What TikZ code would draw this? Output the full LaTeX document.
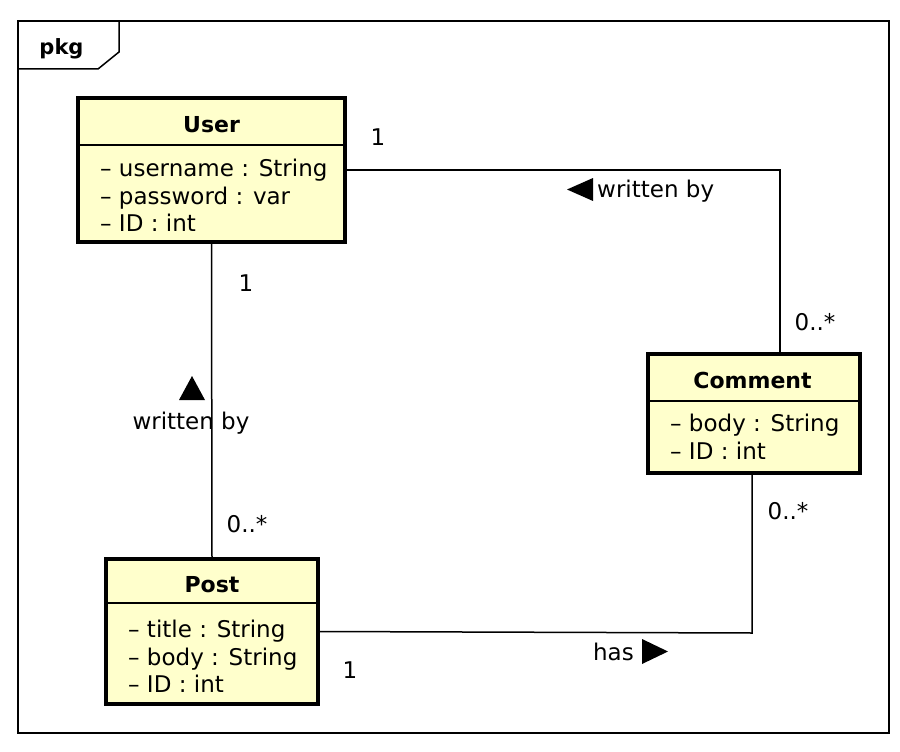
\documentclass[tikz,border=0pt]{standalone}
\usepackage{fontspec}
\setmainfont{DejaVu Sans}
\begin{document}
\begin{tikzpicture}[x=1pt,y=-1pt,
  classbox/.style={draw=black,line width=3.2pt,fill=umlyellow,rectangle,inner sep=0pt},
  ctitle/.style={font=\fontsize{22}{26}\selectfont\bfseries,anchor=base,inner sep=0pt},
  attr/.style={font=\fontsize{23}{27}\selectfont,anchor=base west,inner sep=0pt},
  lbl/.style={font=\fontsize{23}{27}\selectfont,anchor=base,inner sep=0pt},
  conn/.style={draw=black,line width=1.5pt},
  sep/.style={draw=black,line width=1.5pt}]
\definecolor{umlyellow}{RGB}{255,255,204}
\useasboundingbox (0,0) rectangle (900,752);
% frame
\draw[line width=1.5pt] (18,21) rectangle (889,733);
\draw[line width=1.5pt] (18,69) -- (98,69) -- (119,52) -- (119,21);
\node[font=\fontsize{21}{25}\selectfont\bfseries,anchor=base,inner sep=0pt] (pkg) at (61.5,55) {pkg};
% User
\node[classbox,minimum width=267pt,minimum height=144pt] (User) at (211.5,170) {};
\draw[sep] (78,145) -- (345,145);
\node[ctitle] (usertitle) at (211.5,132) {User};
\node[attr] (u1) at (100,176) {– username : String};
\node[attr] (u2) at (100,204) {– password : var};
\node[attr] (u3) at (100,231) {– ID : int};
% Comment
\node[classbox,minimum width=212pt,minimum height=119pt] (Comment) at (754,413.5) {};
\draw[sep] (648,401) -- (860,401);
\node[ctitle] (commenttitle) at (752.5,388) {Comment};
\node[attr] (c1) at (670,431) {– body : String};
\node[attr] (c2) at (670,459) {– ID : int};
% Post
\node[classbox,minimum width=212pt,minimum height=145pt] (Post) at (212,631.5) {};
\draw[sep] (106,603) -- (318,603);
\node[ctitle] (posttitle) at (212,592) {Post};
\node[attr] (p1) at (128,637) {– title : String};
\node[attr] (p2) at (128,665) {– body : String};
\node[attr] (p3) at (128,692) {– ID : int};
% connectors
\coordinate (ctop) at (780,354);
\coordinate (cbot) at (752,473);
\draw[conn] (User.east) -| (ctop);
\draw[conn] (User.south) -- (Post.north);
\draw[conn] (Post.east) -- (cbot |- 0,633) -- (cbot);
% labels
\node[lbl] (m1) at (378,145) {1};
\node[lbl] (m2) at (815,330) {0..*};
\node[lbl] (m3) at (246,291) {1};
\node[lbl] (m4) at (247,532) {0..*};
\node[lbl] (m5) at (788,519) {0..*};
\node[lbl] (m6) at (350,678) {1};
\fill (567,189.5) -- (593,178) -- (593,201) -- cycle;
\node[lbl,anchor=base west] (wb1) at (597,197) {written by};
\fill (179,400) -- (205,400) -- (192,376) -- cycle;
\node[lbl] (wb2) at (191,429) {written by};
\node[lbl,anchor=base east] (has) at (634,660) {has};
\fill (642,639) -- (668,651.5) -- (642,664) -- cycle;
\end{tikzpicture}
\end{document}
